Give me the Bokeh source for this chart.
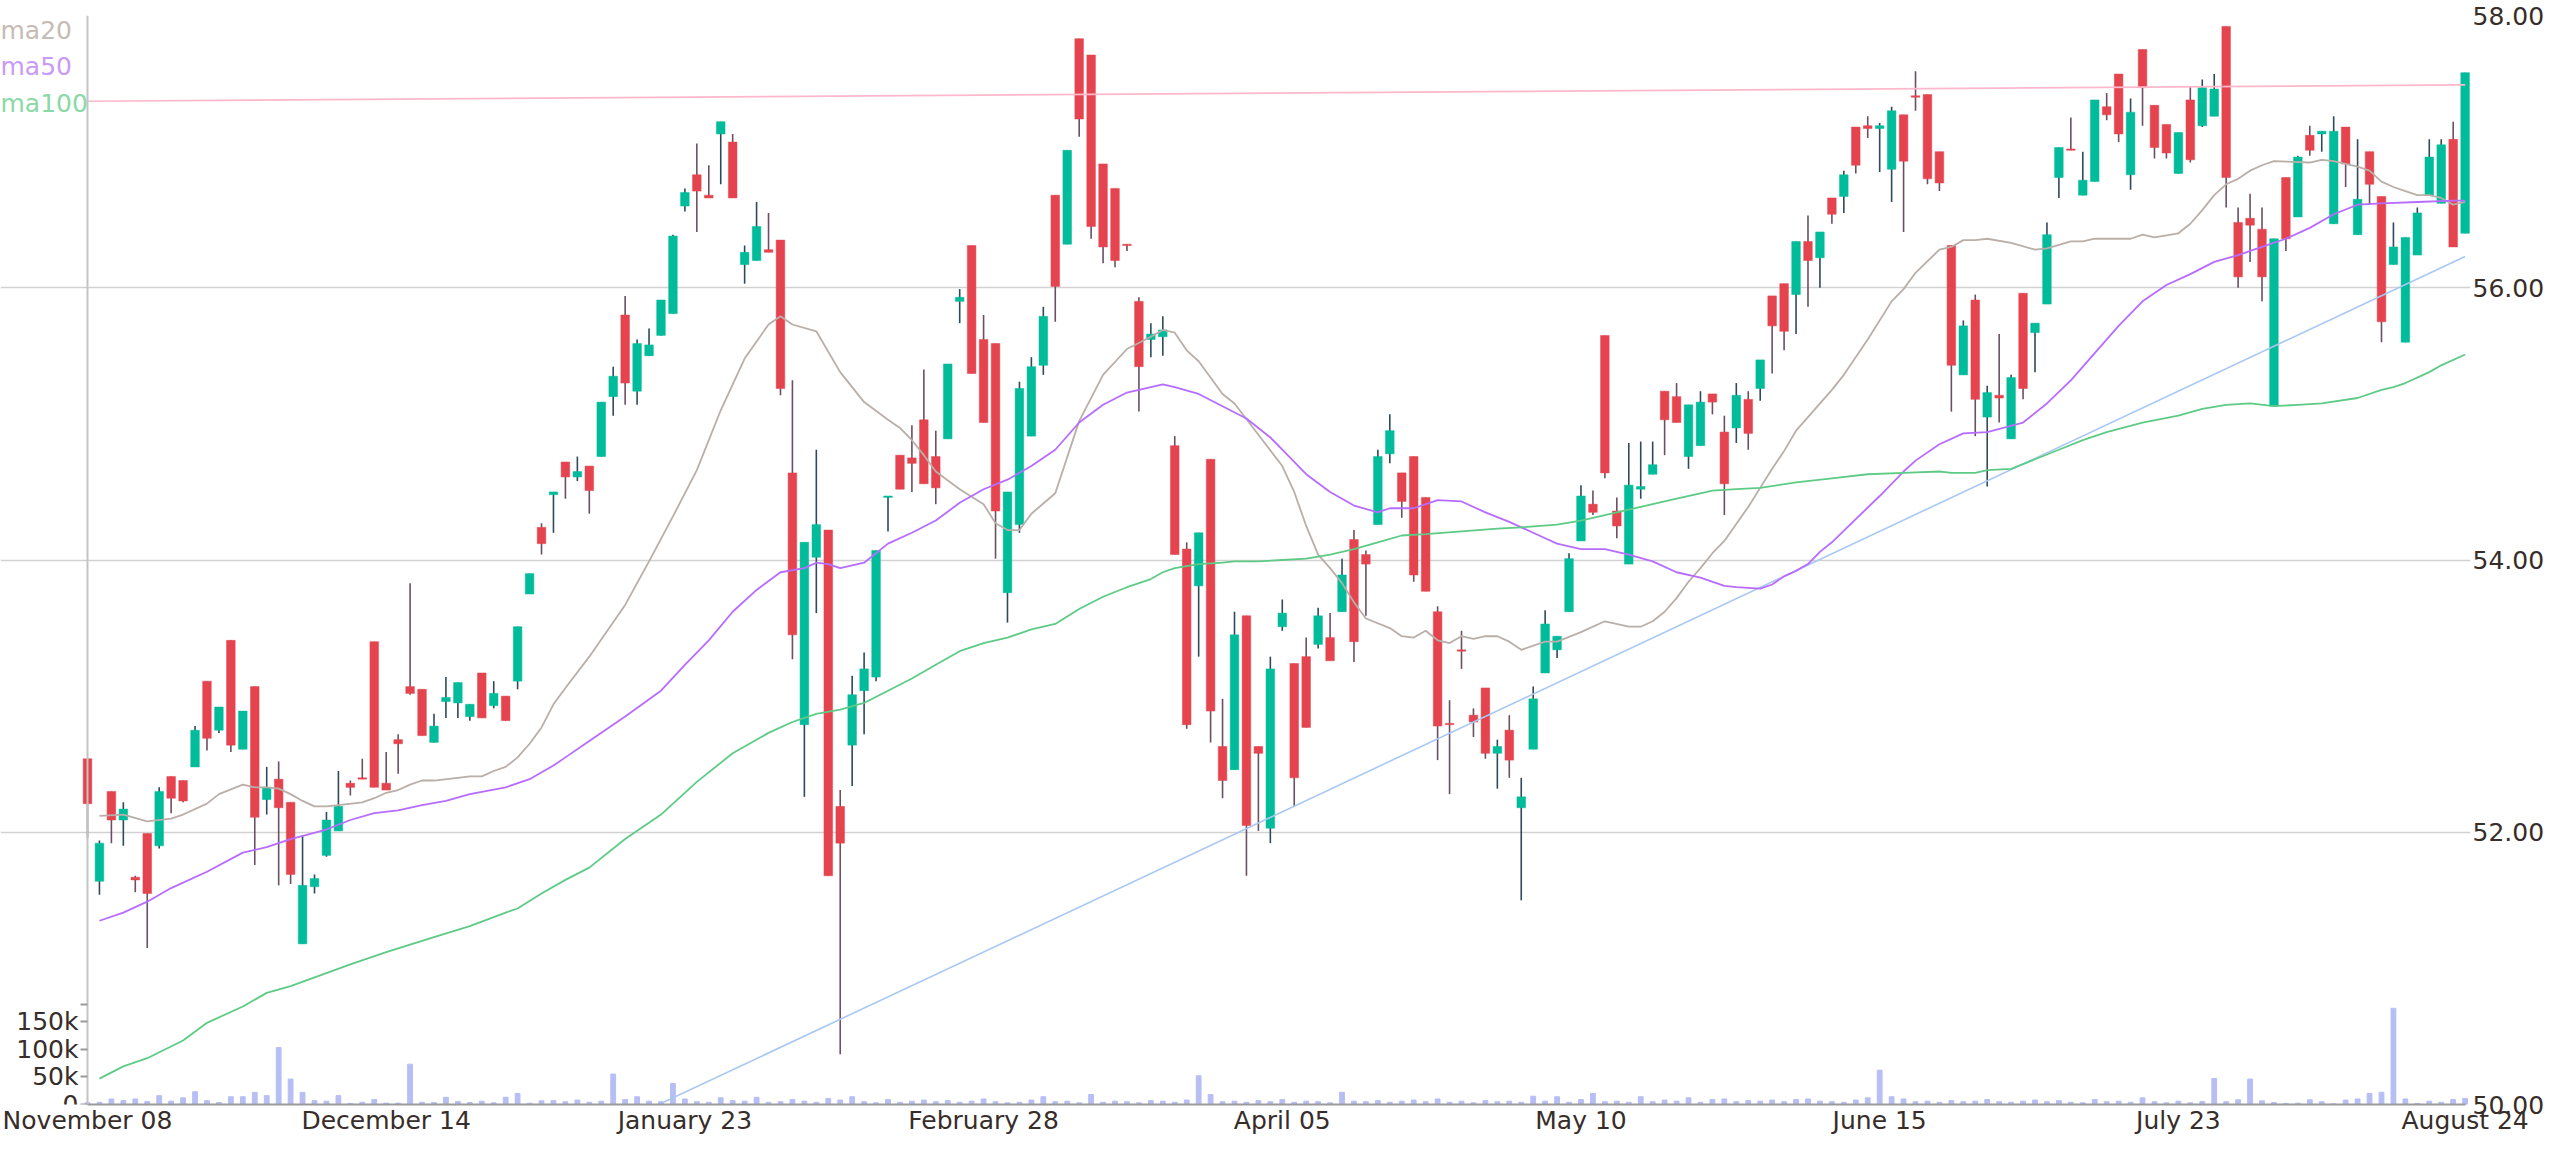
from bokeh.plotting import figure
from bokeh.models import Range1d, LinearAxis, FixedTicker, Label, NumeralTickFormatter, ColumnDataSource
from bokeh.embed import file_html
from bokeh.resources import INLINE

# ---------------- data ----------------
opens = [52.54,51.64,52.30,52.09,51.67,51.99,51.90,52.41,52.38,52.48,
         53.11,52.75,53.41,52.61,53.07,52.24,52.39,52.22,51.18,51.60,
         51.83,52.01,52.36,52.40,53.40,52.36,52.68,53.07,53.05,52.66,
         52.96,52.95,52.85,53.17,52.93,53.00,53.11,53.75,54.24,54.48,
         54.72,54.61,54.69,54.76,55.20,55.80,55.24,55.50,55.65,55.81,
         56.60,56.83,56.68,57.13,57.07,56.17,56.20,56.28,56.35,54.64,
         52.79,54.02,54.22,52.19,52.64,53.04,53.14,54.46,54.77,54.75,
         55.03,54.76,54.89,55.90,56.31,55.62,55.59,53.76,54.26,54.91,
         55.43,56.68,56.32,57.83,57.71,56.91,56.73,56.32,55.90,55.62,
         55.64,54.84,54.08,53.81,54.74,52.63,52.46,53.59,52.63,52.03,
         53.51,53.24,53.29,53.38,53.43,53.62,54.15,54.04,54.26,54.78,
         54.64,54.76,54.46,53.62,52.80,53.34,52.86,53.06,52.58,52.75,
         52.18,52.61,53.17,53.34,53.62,54.14,54.41,55.65,54.36,53.97,
         54.52,54.63,55.24,55.20,54.76,54.84,55.22,54.94,54.97,55.18,
         55.26,55.94,56.03,55.95,56.34,56.22,56.66,56.67,57.18,57.19,
         57.17,56.87,57.27,57.41,57.42,57.00,56.31,55.36,55.91,55.05,
         55.21,54.89,55.96,55.67,55.88,56.81,57.02,56.68,56.78,57.33,
         57.57,56.83,57.75,57.34,57.20,56.84,57.38,57.19,57.26,57.92,
         56.48,56.51,56.43,55.13,56.81,56.52,57.12,57.13,56.47,57.18,
         56.39,57.00,56.67,56.17,55.60,56.24,56.68,56.62,57.09,56.40]
highs = [52.54,51.94,52.30,52.22,51.68,51.99,52.33,52.41,52.38,52.78,
         53.11,52.92,53.41,52.89,53.07,52.48,52.52,52.22,51.98,51.69,
         52.15,52.45,52.38,52.54,53.40,52.59,52.72,53.83,53.05,52.87,
         53.14,53.10,52.94,53.17,53.11,53.00,53.51,53.90,54.27,54.50,
         54.72,54.76,54.69,55.16,55.42,55.94,55.62,55.70,55.91,56.39,
         56.73,57.06,56.90,57.22,57.13,56.31,56.63,56.55,56.35,55.32,
         54.13,54.81,54.22,52.31,53.15,53.32,54.07,54.47,54.77,54.99,
         55.40,54.95,55.44,55.99,56.31,55.80,55.59,54.50,55.31,55.49,
         55.86,56.68,57.01,57.83,57.71,56.91,56.73,56.32,55.93,55.74,
         55.79,54.91,54.13,54.20,54.74,52.98,53.62,53.59,52.63,53.29,
         53.71,53.24,53.43,53.65,53.61,54.01,54.22,54.07,54.81,55.07,
         54.64,54.76,54.46,53.66,52.97,53.48,52.91,53.06,52.68,52.86,
         52.40,53.07,53.63,53.44,54.05,54.55,54.51,55.65,54.46,54.86,
         54.87,54.87,55.24,55.30,55.14,55.24,55.22,55.06,55.30,55.24,
         55.47,55.94,56.03,56.34,56.53,56.41,56.66,56.86,57.18,57.26,
         57.21,57.33,57.27,57.59,57.42,57.00,56.31,55.76,55.95,55.28,
         55.66,55.36,55.96,55.74,56.48,57.03,57.25,57.00,57.38,57.43,
         57.57,57.39,57.75,57.34,57.20,57.14,57.48,57.53,57.57,57.92,
         56.59,56.69,56.59,56.36,56.81,56.97,57.19,57.15,57.26,57.18,
         57.09,57.00,56.67,56.48,56.37,56.59,57.09,57.09,57.22,57.58]
lows = [51.96,51.54,51.92,51.90,51.56,51.15,51.88,52.14,52.22,52.48,
        52.60,52.73,52.59,52.61,51.76,52.13,51.61,51.62,51.18,51.55,
        51.82,52.01,52.27,52.39,52.33,52.31,52.43,53.01,52.71,52.66,
        52.84,52.84,52.82,52.84,52.91,52.82,53.05,53.75,54.04,54.20,
        54.45,54.58,54.34,54.76,55.06,55.14,55.14,55.50,55.65,55.81,
        56.56,56.41,56.66,56.76,56.66,56.03,56.20,56.26,55.21,53.27,
        52.26,53.61,51.68,50.37,52.34,52.72,53.11,54.21,54.52,54.50,
        54.56,54.41,54.89,55.74,55.37,55.01,54.01,53.54,54.20,54.91,
        55.36,55.75,56.32,57.11,56.36,56.18,56.15,56.27,55.09,55.49,
        55.50,54.04,52.76,53.29,52.66,52.25,52.46,51.68,52.01,51.92,
        53.48,52.19,52.77,53.35,53.26,53.62,53.25,53.59,54.26,54.71,
        54.31,53.84,53.77,52.53,52.28,53.20,52.70,52.54,52.32,52.40,
        51.50,52.61,53.17,53.28,53.62,54.14,54.33,54.60,54.16,53.97,
        54.45,54.63,54.77,55.01,54.67,54.84,55.07,54.33,54.86,54.81,
        55.17,55.37,55.54,55.66,55.86,56.00,56.47,56.55,56.84,57.10,
        56.85,56.63,56.41,57.30,56.76,56.71,55.09,55.36,54.91,54.54,
        55.01,54.89,55.18,55.38,55.88,56.66,57.01,56.68,56.78,57.23,
        57.07,56.72,57.19,56.95,56.95,56.84,56.92,57.18,57.26,56.59,
        56.00,56.19,55.90,55.13,56.27,56.52,56.97,57.00,56.47,56.74,
        56.39,56.61,55.60,56.17,55.60,56.24,56.68,56.62,56.30,56.40]
closes = [52.21,51.92,52.09,52.17,51.65,51.55,52.30,52.25,52.23,52.75,
          52.69,52.92,52.64,52.89,52.11,52.33,52.18,51.69,51.61,51.66,
          52.09,52.19,52.33,52.39,52.33,52.31,52.65,53.02,52.71,52.78,
          52.99,53.10,52.94,52.84,53.02,52.82,53.51,53.90,54.12,54.50,
          54.61,54.65,54.51,55.16,55.35,55.30,55.59,55.58,55.91,56.38,
          56.70,56.71,56.66,57.22,56.66,56.26,56.45,56.26,55.26,53.45,
          54.13,54.26,51.68,51.92,53.01,53.20,54.07,54.47,54.52,54.71,
          54.56,54.53,55.44,55.93,55.37,55.01,54.36,54.50,55.26,55.42,
          55.79,56.01,57.01,57.24,56.45,56.30,56.20,56.31,55.42,55.66,
          55.69,54.04,52.79,54.20,52.89,52.38,53.45,52.05,52.58,53.20,
          53.61,52.40,52.77,53.59,53.26,53.89,53.40,53.97,54.76,54.95,
          54.43,53.89,53.77,52.78,52.79,53.33,52.81,52.58,52.63,52.53,
          52.26,52.98,53.53,53.44,54.01,54.47,54.35,54.64,54.25,54.55,
          54.54,54.70,55.03,55.01,55.14,55.16,55.16,54.56,55.21,54.93,
          55.47,55.72,55.68,56.34,56.20,56.41,56.54,56.83,56.90,57.17,
          57.19,57.30,56.93,57.40,56.80,56.77,55.43,55.72,55.18,55.23,
          55.19,55.34,55.26,55.74,56.39,57.03,57.01,56.79,57.38,57.27,
          57.13,57.29,57.47,57.03,56.99,57.14,56.94,57.47,57.46,56.81,
          56.08,56.46,56.08,56.36,56.36,56.96,57.01,57.15,57.15,56.91,
          56.65,56.76,55.75,56.30,56.37,56.55,56.96,57.05,56.30,57.58]
volumes = [3000,4000,10000,7000,10000,5500,16000,6000,12000,23000,
           7000,3600,14000,14000,22000,16000,103000,46000,22000,7000,
           6000,16000,2000,4000,9000,2500,2500,73000,4000,3600,
           13000,5400,3600,6000,3000,13000,20000,2400,6600,7000,
           5000,8000,4000,6000,55000,9000,14000,6000,5000,38000,
           10000,5000,4000,12000,7000,6000,13000,4000,5000,9000,
           6000,4000,11000,8000,14000,5000,3000,9000,4000,6000,
           8000,5000,7000,4000,6000,10000,5000,3000,4000,8000,
           14000,5000,6000,3000,18000,4000,6000,5000,3000,7000,
           6000,4000,8000,52000,18000,5000,6000,4000,7000,5000,
           9000,4000,6000,5000,3000,22000,6000,5000,7000,4000,
           6000,8000,5000,10000,4000,6000,3000,7000,5000,6000,
           4000,15000,6000,14000,4000,9000,20000,5000,6000,4000,
           14000,5000,8000,6000,12000,4000,9000,10000,5000,7000,
           6000,8000,5000,9000,10000,6000,5000,4000,8000,12000,
           62000,14000,10000,5000,6000,4000,7000,5000,6000,9000,
           5000,4000,6000,8000,5000,7000,4000,3000,9000,5000,
           6000,4000,12000,5000,3000,6000,3000,5400,47000,5000,
           8400,46000,6600,3600,2000,2400,8400,5000,1200,8000,
           10000,20000,22000,174000,10000,2000,6000,4000,9000,11000]

ma20_idx = [1,3,5,7,8,10,11,13,14,15,16,17,18,19,20,21,23,24,25,26,27,28,29,31,32,33,34,35,36,37,38,39,40,
            42,45,47,49,51,53,55,57,58,59,61,63,65,67,68,69,70,71,73,75,76,77,78,79,
            81,83,85,87,89,90,91,92,93,95,96,98,100,101,102,103,104,105,106,107,109,110,111,112,113,114,115,116,117,118,119,120,
            122,123,125,127,129,130,131,132,133,134,135,136,137,139,140,141,142,143,144,146,147,149,151,152,153,155,156,157,158,159,
            161,163,164,166,167,168,171,172,173,175,176,177,178,179,180,181,182,183,186,187,188,190,191,192,193,194,195,196,197,198,199]
ma20_val = [52.12,52.13,52.08,52.10,52.13,52.21,52.28,52.35,52.33,52.33,52.32,52.28,52.23,52.19,52.19,52.20,52.22,52.25,52.29,52.31,52.35,52.38,52.38,52.40,52.41,52.41,52.45,52.48,52.55,52.65,52.77,52.94,53.06,
            53.29,53.67,53.99,54.32,54.66,55.10,55.48,55.73,55.79,55.73,55.68,55.38,55.16,55.03,54.97,54.88,54.77,54.65,54.52,54.41,54.27,54.22,54.22,54.34,
            54.49,55.02,55.36,55.55,55.64,55.69,55.67,55.54,55.46,55.22,55.15,54.92,54.69,54.50,54.25,54.04,53.94,53.83,53.69,53.57,53.50,53.44,53.43,53.48,53.41,53.39,53.44,53.42,53.44,53.44,53.40,53.34,
            53.40,53.40,53.47,53.55,53.51,53.51,53.55,53.62,53.72,53.84,53.94,54.05,54.14,54.39,54.53,54.67,54.80,54.95,55.05,55.25,55.36,55.62,55.90,55.99,56.11,56.28,56.30,56.35,56.35,56.36,
            56.33,56.28,56.29,56.34,56.34,56.36,56.36,56.39,56.37,56.40,56.47,56.57,56.68,56.76,56.80,56.86,56.90,56.93,56.92,56.94,56.93,56.89,56.86,56.78,56.74,56.71,56.68,56.68,56.66,56.61,56.63]

ma50_idx = [1,3,5,7,10,13,15,17,20,22,24,26,28,30,32,35,37,39,40,42,45,48,50,52,54,56,58,60,61,62,63,65,67,69,71,73,75,77,79,
            81,83,85,87,89,90,91,93,95,97,99,100,102,104,106,108,109,111,113,115,117,119,120,
            122,123,125,127,129,131,133,135,137,138,140,141,142,143,144,145,146,148,150,152,153,155,157,159,
            162,164,166,168,170,172,174,176,178,180,182,184,186,188,190,192,195,198,199]
ma50_val = [51.35,51.41,51.49,51.59,51.71,51.85,51.89,51.95,52.02,52.09,52.14,52.16,52.20,52.23,52.28,52.33,52.39,52.49,52.55,52.67,52.85,53.04,53.23,53.41,53.62,53.78,53.91,53.94,53.98,53.97,53.94,53.98,54.12,54.20,54.29,54.42,54.52,54.59,54.69,
            54.81,55.01,55.14,55.23,55.27,55.29,55.27,55.22,55.13,55.04,54.90,54.81,54.63,54.50,54.40,54.35,54.38,54.38,54.44,54.43,54.35,54.28,54.24,
            54.16,54.12,54.08,54.08,54.04,53.99,53.91,53.87,53.81,53.80,53.79,53.82,53.88,53.92,53.97,54.06,54.13,54.30,54.47,54.65,54.73,54.85,54.93,54.94,
            55.01,55.15,55.32,55.52,55.72,55.90,56.02,56.10,56.19,56.24,56.30,56.36,56.44,56.54,56.61,56.62,56.63,56.64,56.64]

ma100_idx = [1,3,5,8,10,13,15,17,22,25,29,32,35,36,38,40,42,45,48,51,54,57,59,61,63,65,67,69,71,73,75,77,79,
             81,83,85,87,89,90,91,93,95,96,98,100,102,104,106,108,110,112,115,118,120,
             123,125,127,129,131,133,135,136,138,140,143,146,149,152,155,156,158,159,
             161,163,165,167,169,172,175,177,179,181,183,185,187,190,192,193,194,196,197,199]
ma100_val = [50.19,50.28,50.34,50.47,50.60,50.72,50.82,50.87,51.03,51.12,51.23,51.31,51.41,51.44,51.55,51.65,51.74,51.95,52.13,52.37,52.58,52.73,52.81,52.87,52.90,52.95,53.04,53.13,53.23,53.33,53.39,53.43,53.49,
             53.53,53.64,53.73,53.80,53.86,53.91,53.94,53.97,53.98,53.99,53.99,54.00,54.01,54.04,54.08,54.13,54.18,54.19,54.21,54.23,54.24,
             54.26,54.29,54.33,54.37,54.41,54.45,54.49,54.51,54.52,54.53,54.57,54.60,54.63,54.64,54.65,54.64,54.64,54.66,
             54.67,54.74,54.81,54.88,54.94,55.01,55.06,55.11,55.14,55.15,55.13,55.14,55.15,55.19,55.25,55.27,55.30,55.38,55.43,55.51]

trend_top_idx = [0, 199]
trend_top_val = [57.37, 57.49]
trend_up_idx = [0, 199]
trend_up_val = [48.03, 56.23]

tick_idx = [0, 25, 50, 75, 100, 125, 150, 175, 199]
tick_labels = ["November 08", "December 14", "January 23", "February 28", "April 05",
               "May 10", "June 15", "July 23", "August 24"]
price_ticks = [50, 52, 54, 56, 58]
vol_ticks = [0, 50000, 100000, 150000, 180500]
vol_tick_labels = ["0", "50k", "100k", "150k", ""]
legend_names = ["ma20", "ma50", "ma100"]

# ---------------- styling ----------------
UP = "#00bc9b"
DOWN = "#e5444f"
UP_WICK = "#2e4a5c"
DOWN_WICK = "#6a5062"
TXT = "#372d29"
FONT = "DejaVu Sans"
FS = "25px"

W, H = 2548, 1137
BORDER_TOP, BORDER_RIGHT = 15, 78
AXIS_X = 87                      # canvas px of bar 0 / volume axis

n = len(opens)
idx = list(range(n))
is_up = [c >= o for o, c in zip(opens, closes)]
src = ColumnDataSource(dict(
    x=idx, o=opens, h=highs, l=lows, c=closes, v=volumes,
    top=[max(o, c) for o, c in zip(opens, closes)],
    bot=[min(o, c) for o, c in zip(opens, closes)],
    col=[UP if u else DOWN for u in is_up],
    wcol=[UP_WICK if u else DOWN_WICK for u in is_up],
))

frame_right = W - BORDER_RIGHT
x_end = n - 1 + 0.45
px_per_bar = (frame_right - AXIS_X) / x_end
x_start = -AXIS_X / px_per_bar

p = figure(width=W, height=H, output_backend="svg", toolbar_location=None,
           x_range=Range1d(x_start, x_end), y_range=Range1d(50, 58),
           y_axis_location="right",
           min_border_left=0, min_border_right=BORDER_RIGHT, min_border_top=BORDER_TOP, min_border_bottom=0,
           background_fill_color="white", border_fill_color="white", outline_line_color=None)

p.extra_y_ranges = {"vol": Range1d(0, 1.969e6)}

# volume
p.vbar(x="x", top="v", bottom=0, width=0.4, color="#b6bef4", source=src, y_range_name="vol")

# candles
p.segment(x0="x", y0="l", x1="x", y1="h", color="wcol", line_width=1.6, source=src)
p.vbar(x="x", top="top", bottom="bot", width=0.72, fill_color="col", line_color="col",
       line_width=0.5, source=src)

# trend lines
p.line(trend_top_idx, trend_top_val, color="#ffb8cb", line_width=1.6)
p.line(trend_up_idx, trend_up_val, color="#a8c8f4", line_width=1.6)

# moving averages
p.line(ma20_idx, ma20_val, color="#b9aea8", line_width=1.8)
p.line(ma50_idx, ma50_val, color="#b76cff", line_width=1.8)
p.line(ma100_idx, ma100_val, color="#5dcb85", line_width=1.8)

# bottom axis
p.xaxis.ticker = FixedTicker(ticks=tick_idx)
p.xaxis.major_label_overrides = {t: s for t, s in zip(tick_idx, tick_labels)}
p.xaxis.bounds = (0, n - 1)
p.xaxis.axis_line_color = "#9a9a9a"
p.xaxis.axis_line_width = 2
p.xaxis.major_tick_line_color = None
p.xaxis.major_tick_out = 0
p.xaxis.major_tick_in = 0
p.xaxis.minor_tick_line_color = None
p.xaxis.major_label_standoff = 1
p.xaxis.major_label_text_font = FONT
p.xaxis.major_label_text_font_size = FS
p.xaxis.major_label_text_color = TXT

# price axis (right)
p.yaxis.ticker = FixedTicker(ticks=price_ticks)
p.yaxis.formatter = NumeralTickFormatter(format="0.00")
p.yaxis.axis_line_color = None
p.yaxis.major_tick_line_color = None
p.yaxis.major_tick_out = 0
p.yaxis.major_tick_in = 0
p.yaxis.minor_tick_line_color = None
p.yaxis.major_label_standoff = 2
p.yaxis.major_label_text_font = FONT
p.yaxis.major_label_text_font_size = FS
p.yaxis.major_label_text_color = TXT

# volume axis (left, fixed at bar 0)
vax = LinearAxis(y_range_name="vol", ticker=FixedTicker(ticks=vol_ticks), fixed_location=0)
vax.major_label_overrides = {t: s for t, s in zip(vol_ticks, vol_tick_labels)}
vax.axis_line_color = "#c4c4c4"
vax.axis_line_width = 2
vax.major_tick_line_color = "#9a9a9a"
vax.major_tick_line_width = 2
vax.major_tick_out = 7
vax.major_tick_in = 0
vax.minor_tick_line_color = None
vax.major_label_standoff = 2
vax.major_label_text_font = FONT
vax.major_label_text_font_size = FS
vax.major_label_text_color = TXT
p.add_layout(vax, "left")

p.xgrid.grid_line_color = None
p.ygrid.grid_line_color = "#d2d2d2"
p.ygrid.grid_line_width = 1.5
p.ygrid.bounds = (0, n - 1)

# legend labels (top-left, left of the volume axis)
for txt, col, yv in zip(legend_names, ["#c6bbb5", "#c99af8", "#8ad9a6"], [58.0, 57.73, 57.46]):
    p.add_layout(Label(x=x_start, y=yv, x_units="data", y_units="data", text=txt,
                       text_font=FONT, text_font_size=FS, text_color=col,
                       text_baseline="top", text_align="left"))

open("out.html", "w").write(file_html(p, INLINE))
